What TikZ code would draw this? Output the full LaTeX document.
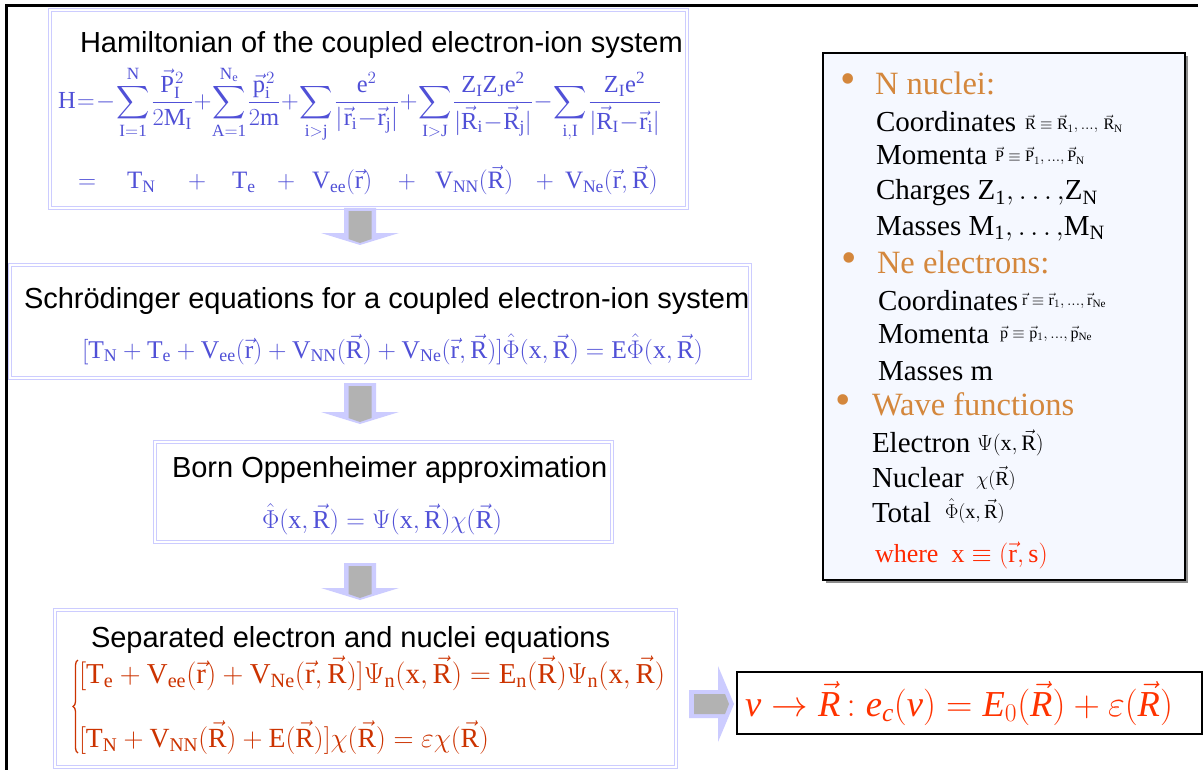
\RequirePackage{fix-cm}
\documentclass[tikz,border=0pt]{standalone}
\usepackage{amsmath}
\usepackage{fontspec}
\setmainfont{Liberation Serif}
\setmathrm{Liberation Serif}
\newfontfamily\sansf{Liberation Sans}
\usetikzlibrary{decorations.pathreplacing}

\definecolor{lav}{RGB}{204,204,255}
\definecolor{eqblue}{RGB}{80,80,215}
\definecolor{eqred}{RGB}{204,51,0}
\definecolor{resred}{RGB}{255,51,0}
\definecolor{headorg}{RGB}{212,135,60}
\definecolor{wred}{RGB}{255,40,0}
\definecolor{infofill}{RGB}{245,248,255}
\definecolor{shaftgray}{RGB}{178,178,178}

\newcommand{\vv}[1]{\vec{\mathrm{#1}}}
\newcommand{\vi}[1]{\vec{\mathit{#1}}}

\tikzset{
  every node/.style={inner sep=0pt, outer sep=0pt},
  ttl/.style={font=\sansf\fontsize{29}{34}\selectfont, anchor=base west},
  eqb/.style={text=eqblue},
  boxline/.style={draw=lav, line width=1.6pt, double=white, double distance=1.4pt},
  hd/.style={font=\fontsize{32.5}{38}\selectfont, text=headorg, anchor=base west},
  ln/.style={font=\fontsize{29}{34}\selectfont, anchor=base west},
  sm/.style={font=\fontsize{16}{19}\selectfont, anchor=base west},
  bul/.style={font=\fontsize{44}{50}\selectfont, text=headorg},
  pics/dnarr/.style={code={
    \fill[lav] (-16,0) -- (16,0) -- (16,#1) -- (39,#1) -- (0,#1+12) -- (-39,#1) -- (-16,#1) -- cycle;
    \fill[shaftgray] (-11.5,3) -- (11.5,3) -- (11.5,#1+6) -- (0,#1+10) -- (-11.5,#1+6) -- cycle;
  }},
  pics/rtarr/.style={code={
    \fill[lav] (0,-14) -- (29,-14) -- (29,-38) -- (45,0) -- (29,38) -- (29,14) -- (0,14) -- cycle;
    \fill[shaftgray] (5,-10) -- (36,-10) -- (40,0) -- (36,10) -- (5,10) -- cycle;
  }},
}

\begin{document}
\begin{tikzpicture}[x=1pt,y=-1pt]
\useasboundingbox (0,0) rectangle (1204,770);
\fill[white] (0,0) rectangle (1204,770);

% frame lines
\draw[line width=2.6pt] (1198,5.5) -- (6.5,5.5) -- (6.5,772);

% boxes
\draw[boxline] (50,10) rectangle (687,208);
\draw[boxline] (10,265) rectangle (750,378);
\draw[boxline] (155,442) rectangle (612,542);
\draw[boxline] (55,610) rectangle (676,767);

% block arrows
\pic at (360,208) {dnarr=25};
\pic at (360,383) {dnarr=29};
\pic at (360,563) {dnarr=25};
\pic at (689,704) {rtarr};

% Box 1
\node[ttl] (t1) at (80,53) {Hamiltonian of the coupled electron-ion system};
\node[eqb, anchor=west, font=\fontsize{22}{26}\selectfont] (e1) at (58,104) {\resizebox{603pt}{!}{\medmuskip=0.5mu\thickmuskip=1mu\thinmuskip=1mu$\displaystyle
 \mathrm{H}=-\sum_{\mathrm{I=1}}^{\mathrm{N}}\frac{\vv{P}_{\mathrm I}^{\,2}}{2\mathrm{M_I}}
 +\sum_{\mathrm{A=1}}^{\mathrm{N_e}}\frac{\vv{p}_{\mathrm i}^{\,2}}{2\mathrm{m}}
 +\sum_{\mathrm{i>j}}\frac{\mathrm{e}^2}{|\,\vv{r}_{\mathrm i}-\vv{r}_{\mathrm j}|}
 +\sum_{\mathrm{I>J}}\frac{\mathrm{Z_IZ_Je^2}}{|\vv{R}_{\mathrm i}-\vv{R}_{\mathrm j}|}
 -\sum_{\mathrm{i,I}}\frac{\mathrm{Z_Ie^2}}{|\vv{R}_{\mathrm I}-\vv{r}_{\mathrm i}|}$}};
\node[eqb, anchor=base west, font=\fontsize{25}{29}\selectfont] (e1b) at (78,189) {\makebox[49pt][l]{$=$}\makebox[61pt][l]{$\mathrm{T_N}$}\makebox[44pt][l]{$+$}\makebox[45pt][l]{$\mathrm{T_e}$}\makebox[35pt][l]{$+$}\makebox[86pt][l]{$\mathrm{V_{ee}}(\vv r)$}\makebox[37pt][l]{$+$}\makebox[101pt][l]{$\mathrm{V_{NN}}(\vv R)$}\makebox[29pt][l]{$+$}$\mathrm{V_{Ne}}(\vv r,\vv R)$};

% Box 2
\node[ttl] (t2) at (24,308) {Schrödinger equations for a coupled electron-ion system};
\node[eqb, anchor=base west, font=\fontsize{22}{26}\selectfont] (e2) at (82,358) {\resizebox{621pt}{!}{$[\mathrm{T_N}+\mathrm{T_e}+\mathrm{V_{ee}}(\vv r)+\mathrm{V_{NN}}(\vv R)+\mathrm{V_{Ne}}(\vv r,\vv R)]\hat{\Phi}(\mathrm x,\vv R)=\mathrm{E}\hat{\Phi}(\mathrm x,\vv R)$}};

% Box 3
\node[ttl] (t3) at (172,477) {Born Oppenheimer approximation};
\node[eqb, anchor=base west, font=\fontsize{22}{26}\selectfont] (e3) at (262,528) {\resizebox{240pt}{!}{$\hat{\Phi}(\mathrm x,\vv R)=\Psi(\mathrm x,\vv R)\chi(\vv R)$}};

% Box 4
\node[ttl] (t4) at (91,647) {Separated electron and nuclei equations};
\node[text=eqred, anchor=base west, font=\fontsize{24}{29}\selectfont] (e4a) at (79,683) {\resizebox{586pt}{!}{$[\mathrm{T_e}+\mathrm{V_{ee}}(\vv r)+\mathrm{V_{Ne}}(\vv r,\vv R)]\Psi_{\mathrm n}(\mathrm x,\vv R)=\mathrm{E_n}(\vv R)\Psi_{\mathrm n}(\mathrm x,\vv R)$}};
\node[text=eqred, anchor=base west, font=\fontsize{24}{29}\selectfont] (e4b) at (79,747) {\resizebox{410pt}{!}{$[\mathrm{T_N}+\mathrm{V_{NN}}(\vv R)+\mathrm{E}(\vv R)]\chi(\vv R)=\varepsilon\chi(\vv R)$}};
\coordinate (brt) at (78,660);
\coordinate (brb) at (78,753);
\draw[eqred, line width=1.3pt, decorate, decoration={brace, amplitude=5pt}] (brb) -- (brt);

% Result box
\draw[line width=1.2pt] (737,672) rectangle (1202,734);
\node[text=resred, anchor=base west, font=\fontsize{32}{38}\selectfont] (res) at (745,716) {\resizebox{428pt}{!}{$\mathit{v}\rightarrow\vi{R}\,{:}\;\mathit{e}_{\mathit{c}}(\mathit{v})=\mathit{E}_0(\vi{R})+\varepsilon(\vi{R})$}};

% Info box
\fill[black!45] (826,56) rectangle (1187.5,582.5);
\draw[fill=infofill, draw=black, line width=1.3pt] (823,53) rectangle (1185,580);

\node[bul] (b1) at (848,84) {\textbullet};
\node[hd] (h1) at (875,95) {N nuclei:};
\node[ln] (l1) at (876,132) {Coordinates};
\node[sm] (s1) at (1025,130) {$\vv R\equiv\vv R_{1},...,\,\vv R_{\mathrm N}$};
\node[ln] (l2) at (876,165) {Momenta};
\node[sm] (s2) at (995,162) {$\vv P\equiv\vv P_{1},...,\vv P_{\mathrm N}$};
\node[ln] (l3) at (876,200) {Charges $\mathrm{Z_1}{,}\ldots{,}\mathrm{Z_N}$};
\node[ln] (l4) at (876,235) {Masses $\mathrm{M_1}{,}\ldots{,}\mathrm{M_N}$};

\node[bul] (b2) at (849,263) {\textbullet};
\node[hd] (h2) at (877,273) {Ne electrons:};
\node[ln] (l5) at (878,310) {Coordinates};
\node[sm] (s5) at (1022,305) {$\vv r\equiv\vv r_{1},...,\vv r_{\mathrm{Ne}}$};
\node[ln] (l6) at (878,343) {Momenta};
\node[sm] (s6) at (1000,338) {$\vv p\equiv\vv p_{1},...,\vv p_{\mathrm{Ne}}$};
\node[ln] (l7) at (878,380) {Masses m};

\node[bul] (b3) at (843,405) {\textbullet};
\node[hd] (h3) at (872,415) {Wave functions};
\node[ln] (l8) at (872,452) {Electron};
\node[anchor=base west, font=\fontsize{22}{26}\selectfont] (s8) at (977,450) {$\Psi(\mathrm x,\vv R)$};
\node[ln] (l9) at (872,487) {Nuclear};
\node[anchor=base west, font=\fontsize{20}{24}\selectfont] (s9) at (976,485) {$\chi(\vv R)$};
\node[ln] (l10) at (872,522) {Total};
\node[anchor=base west, font=\fontsize{20}{24}\selectfont] (s10) at (945,518) {$\hat{\Phi}(\mathrm x,\vv R)$};
\node[anchor=base west, text=wred, font=\fontsize{26}{30}\selectfont] (w) at (875,562) {where\ \ $\mathrm x\equiv(\vv r,\mathrm s)$};
\end{tikzpicture}
\end{document}
